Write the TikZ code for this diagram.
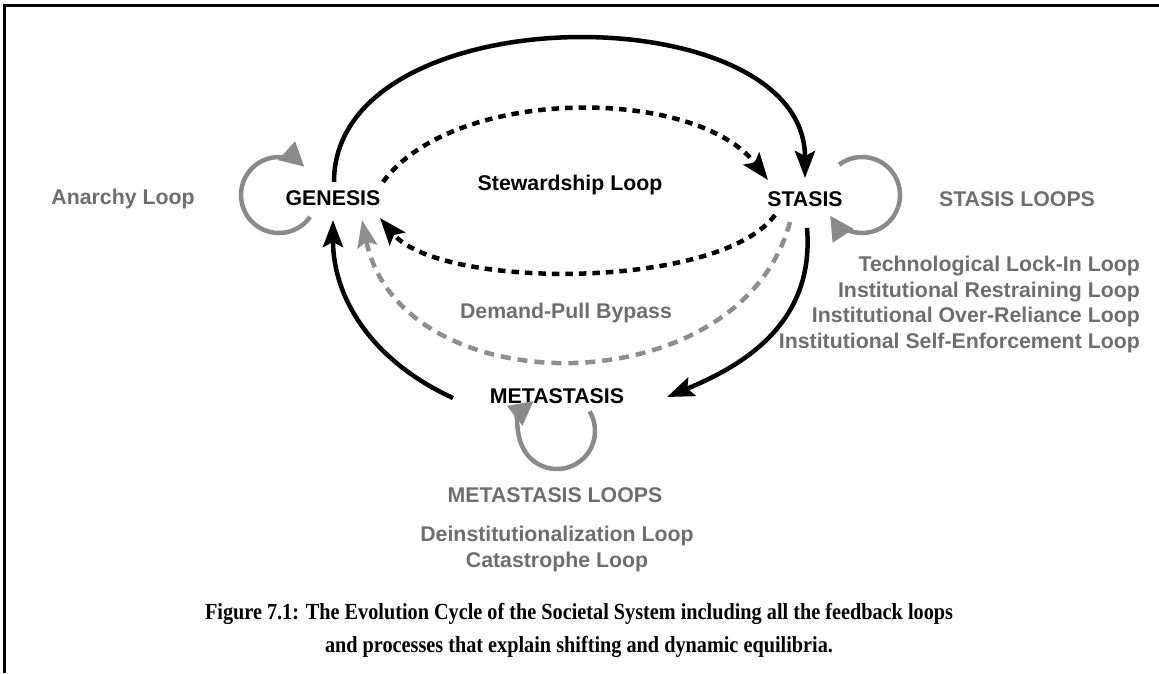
\documentclass[tikz,border=0pt]{standalone}
\usepackage{fontspec}
\setmainfont{Liberation Sans}
\newfontfamily\capfont{Liberation Serif}[FakeStretch=0.88]
\usetikzlibrary{arrows.meta,calc}
\definecolor{labgray}{HTML}{6E6E6E}
\definecolor{loopgray}{HTML}{8A8A8A}
\definecolor{dashgray}{HTML}{8E8E8E}

\begin{document}
\begin{tikzpicture}[x=1pt,y=-1pt,
  lab/.style={font=\fontsize{21.3}{25.5}\selectfont\bfseries, inner sep=0pt, align=center},
  state/.style={lab, text=black},
  note/.style={lab, text=labgray},
  flow/.style={line width=4.5pt, -{Stealth[length=27pt,width=20pt,inset=5pt]}},
  steward/.style={flow, dash pattern=on 7.5pt off 6pt},
  bypass/.style={flow, draw=dashgray, dash pattern=on 10pt off 7pt},
  selfloop/.style={line width=4.5pt, draw=loopgray, -{Triangle[length=24pt,width=24pt]}},
  frame/.style={line width=3pt}
]
\useasboundingbox (0,0) rectangle (1159,673);

% frame
\draw[frame] (4.5,673) -- (4.5,5) -- (1159,5);

% the three states
\node[state] (gen) at (333,198) {GENESIS};
\node[state] (sta) at (805,199) {STASIS};
\node[state] (met) at (557,396) {METASTASIS};

% labels
\node[note] (anarchy) at (123,199) {Anarchy Loop};
\node[state] (stew) at (570,185) {Stewardship Loop};
\node[note] (dpb) at (566,313) {Demand-Pull Bypass};
\node[note] (staloops) at (1017,199) {STASIS LOOPS};
\node[note, align=right, anchor=north east] (stalist) at (1140,256)
  {Technological Lock-In Loop\\Institutional Restraining Loop\\Institutional Over-Reliance Loop\\Institutional Self-Enforcement Loop};
\node[note] (metloops) at (555,495) {METASTASIS LOOPS};
\node[note, anchor=north] (metlist) at (557,526)
  {Deinstitutionalization Loop\\Catastrophe Loop};

% main cycle
\draw[flow] ($(gen)+(1,-16)$) .. controls ($(gen)+(1,-205)$) and ($(sta)+(0,-206)$) .. ($(sta)+(0,-21)$);
\draw[flow] ($(sta)+(2,29)$) .. controls ($(sta)+(10,125)$) and ($(met)+(185,-30)$) .. ($(met)+(110,1)$);
\draw[flow] ($(met)+(-104,2)$) .. controls ($(met)+(-185,-35)$) and ($(gen)+(0,100)$) .. ($(gen)+(0,22)$);

% stewardship loop
\draw[steward] ($(gen)+(50,-16)$) .. controls ($(gen)+(120,-112)$) and ($(sta)+(-110,-113)$) .. ($(sta)+(-37,-19)$);
\draw[steward] ($(sta)+(-30,16)$) .. controls ($(sta)+(-85,91)$) and ($(gen)+(107,92)$) .. ($(gen)+(47,20)$);

% demand-pull bypass
\draw[bypass] ($(sta)+(-15,23)$) .. controls ($(sta)+(-65,208)$) and ($(gen)+(67,209)$) .. ($(gen)+(29,22)$);

% self loops
\draw[selfloop] ($(gen)+(-54,-3)$) ++(35:38) arc[start angle=35, end angle=312, radius=38];
\draw[selfloop] ($(sta)+(57,-4)$) ++(-127:38) arc[start angle=-127, end angle=147, radius=38];
\draw[selfloop] ($(met)+(0,35)$) ++(-31:38) arc[start angle=-31, end angle=232, radius=38];

% caption
\node[font=\capfont\fontsize{23}{33}\selectfont\bfseries, align=center, inner sep=0pt] (cap) at (579,630)
  {Figure 7.1: The Evolution Cycle of the Societal System including all the feedback loops\\
   and processes that explain shifting and dynamic equilibria.};
\end{tikzpicture}
\end{document}
